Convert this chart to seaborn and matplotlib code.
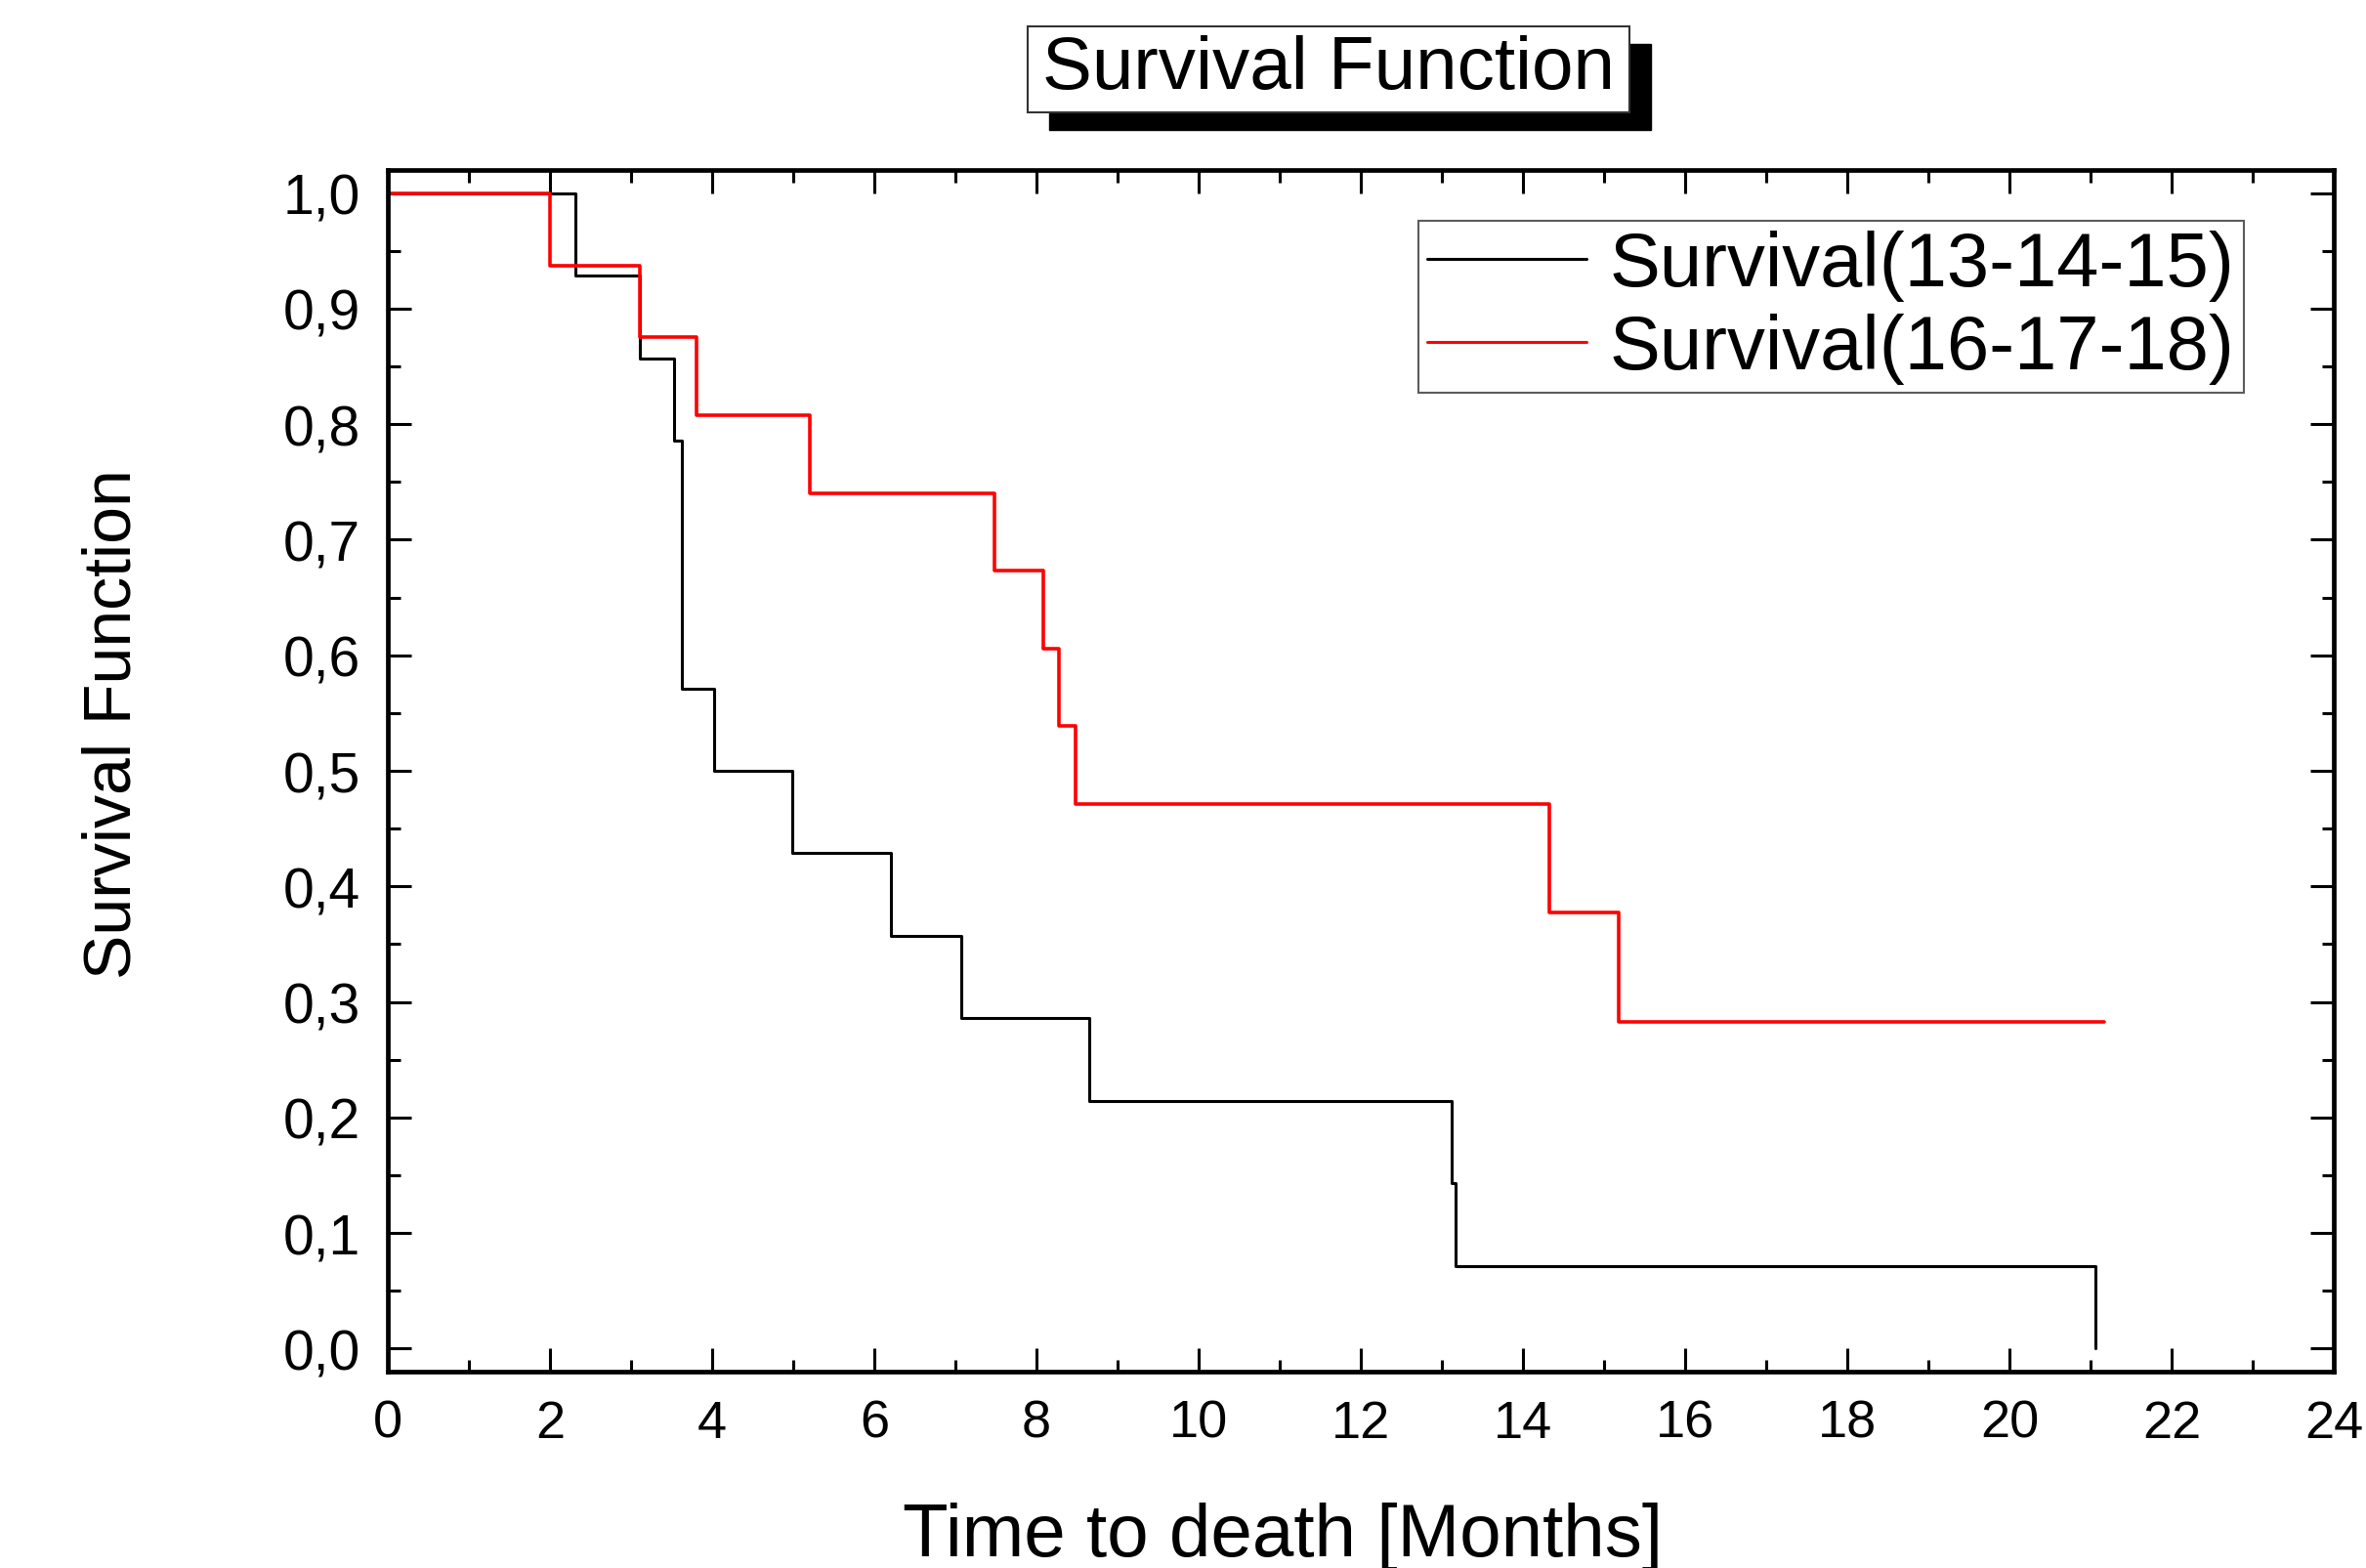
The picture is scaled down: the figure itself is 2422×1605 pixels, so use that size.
import matplotlib
matplotlib.use("Agg")
import matplotlib.pyplot as plt
import seaborn as sns
import pandas as pd
from matplotlib.ticker import MultipleLocator, FuncFormatter
from matplotlib.patches import Rectangle

# ---- data (Kaplan-Meier step values) ----
series_names = ["Survival(13-14-15)", "Survival(16-17-18)"]
black_time = [0, 2.31, 3.11, 3.53, 3.63, 4.03, 4.99, 6.20, 7.07, 8.65, 13.12, 13.17, 21.06]
black_surv = [1.0, 0.929, 0.857, 0.786, 0.571, 0.5, 0.429, 0.357, 0.286, 0.214, 0.143, 0.071, 0.0]
red_time = [0, 2.0, 3.11, 3.81, 5.21, 7.48, 8.09, 8.28, 8.48, 14.33, 15.18, 21.17]
red_surv = [1.0, 0.9375, 0.875, 0.808, 0.740, 0.673, 0.606, 0.539, 0.471, 0.377, 0.283, 0.283]
x_ticks = list(range(0, 25, 2))
y_ticks = [round(0.1 * i, 1) for i in range(11)]
title_text = "Survival Function"
x_label = "Time to death [Months]"
y_label = "Survival Function"

df = pd.concat([
    pd.DataFrame({"time": black_time, "surv": black_surv, "group": series_names[0]}),
    pd.DataFrame({"time": red_time, "surv": red_surv, "group": series_names[1]}),
], ignore_index=True)

sns.set_style("white")
plt.rcParams["font.family"] = ["Liberation Sans", "DejaVu Sans"]
plt.rcParams["text.color"] = "black"
plt.rcParams["axes.labelcolor"] = "black"
plt.rcParams["xtick.color"] = "black"
plt.rcParams["ytick.color"] = "black"

W, H = 2422, 1606
fig = plt.figure(figsize=(W / 100, H / 100), dpi=100)
ax = fig.add_axes([397 / W, 1 - 1405 / H, (2389 - 397) / W, (1405 - 175) / H])

palette = {series_names[0]: "#000000", series_names[1]: "#ff0000"}
for name, lw in zip(series_names, [2.2, 2.6]):
    sub = df[df["group"] == name]
    sns.lineplot(data=sub, x="time", y="surv", ax=ax, color=palette[name],
                 drawstyle="steps-post", estimator=None, sort=False,
                 linewidth=lw, label=name)

ax.set_xlim(0, 24)
ax.set_ylim(-0.02, 1.02)
ax.set_xticks(x_ticks)
ax.set_yticks(y_ticks)
ax.xaxis.set_minor_locator(MultipleLocator(1))
ax.yaxis.set_minor_locator(MultipleLocator(0.05))
ax.yaxis.set_major_formatter(FuncFormatter(lambda v, p: f"{v:.1f}".replace(".", ",")))
ax.xaxis.set_major_formatter(FuncFormatter(lambda v, p: f"{int(round(v))}"))

for sp in ax.spines.values():
    sp.set_visible(True)
    sp.set_linewidth(3.4)
    sp.set_color("black")

ax.tick_params(which="both", direction="in", top=True, right=True,
               bottom=True, left=True, color="black", labelcolor="black")
ax.tick_params(which="major", length=17, width=2.2, pad=20)
ax.tick_params(which="minor", length=9, width=2.2)
ax.tick_params(axis="x", which="major", labelsize=39)
ax.tick_params(axis="y", which="major", labelsize=41)

ax.set_xlabel(x_label, fontsize=55, color="black")
ax.set_ylabel(y_label, fontsize=49, color="black")
ax.xaxis.set_label_coords(0.46, -0.108)
ax.yaxis.set_label_coords(-0.125, 0.54)

leg = ax.legend(loc="upper right", bbox_to_anchor=(0.9538, 0.9577), borderaxespad=0,
                fontsize=56, frameon=True, fancybox=False, handlelength=2.1,
                handletextpad=0.3, borderpad=0.12, labelspacing=0.15)
leg.get_frame().set_edgecolor("#333333")
leg.get_frame().set_linewidth(1.5)
for line in leg.get_lines():
    line.set_linewidth(2.2)
for t in leg.get_texts():
    t.set_color("black")

# title box with drop shadow
fig.patches.append(Rectangle((1074 / W, 1 - 134 / H), (1690 - 1074) / W, (134 - 46) / H,
                             transform=fig.transFigure, facecolor="black", edgecolor="black",
                             zorder=1))
fig.patches.append(Rectangle((1052 / W, 1 - 116 / H), (1668 - 1052) / W, (116 - 28) / H,
                             transform=fig.transFigure, facecolor="white", edgecolor="#333333",
                             linewidth=1.5, zorder=2))
fig.text((1052 + 1668) / 2 / W, 1 - 72 / H, title_text, ha="center", va="center",
         fontsize=55, color="black", zorder=3)

fig.savefig("out.png", dpi=100, facecolor="white")
